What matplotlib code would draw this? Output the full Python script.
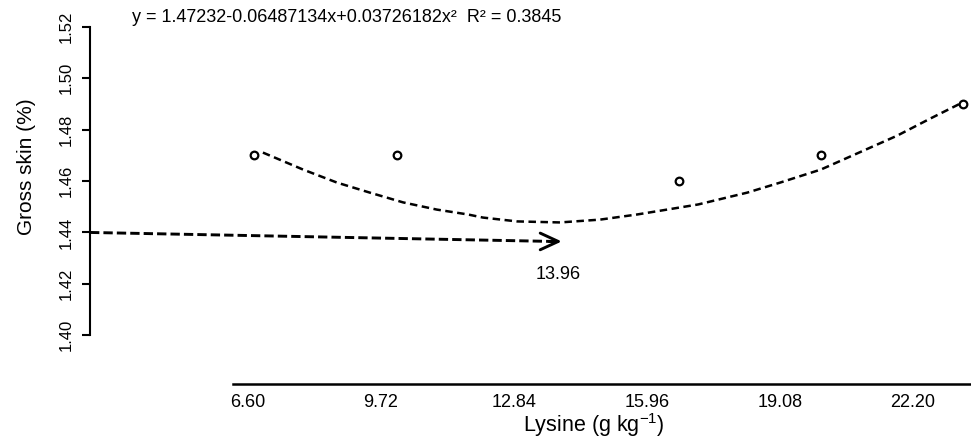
import matplotlib
matplotlib.use("Agg")
import matplotlib.pyplot as plt

plt.rcParams['font.family'] = ['Liberation Sans', 'DejaVu Sans']
plt.rcParams['mathtext.fontset'] = 'custom'
plt.rcParams['mathtext.rm'] = 'Liberation Sans'
plt.rcParams['mathtext.it'] = 'Liberation Sans'

# observed means
lys_obs = [6.74, 10.10, 16.71, 20.04, 23.37]
skin_obs = [1.47, 1.47, 1.46, 1.47, 1.49]

# fitted curve
lys_fit = [6.95, 7.89, 8.69, 9.46, 10.24, 11.03, 11.76, 12.11, 12.91, 13.92,
           14.86, 15.73, 16.43, 17.16, 17.51, 18.31, 19.08, 20.04, 21.03,
           21.83, 22.60, 23.30]
skin_fit = [1.4711, 1.4645, 1.4594, 1.4555, 1.4517, 1.4489, 1.4470, 1.4458,
            1.4443, 1.4439, 1.4450, 1.4470, 1.4489, 1.4509, 1.4523, 1.4555,
            1.4594, 1.4645, 1.4718, 1.4777, 1.4843, 1.4901]

xticks = [6.60, 9.72, 12.84, 15.96, 19.08, 22.20]
xtick_labels = ['6.60', '9.72', '12.84', '15.96', '19.08', '22.20']
yticks = [1.40, 1.42, 1.44, 1.46, 1.48, 1.50, 1.52]

opt_x = 13.96
opt_y = 1.44

fig = plt.figure(figsize=(9.71, 4.46), dpi=100)
ax = fig.add_axes([90/971, 62/446, 881/971, 384/446])
ax.set_xlim(2.894, 23.56)
ax.set_ylim(1.381, 1.5305)

# curve + points
ax.plot(lys_fit, skin_fit, color='black', lw=1.8, ls=(0, (3.0, 1.8)))
ax.plot(lys_obs, skin_obs, 'o', mfc='white', mec='black', ms=5.5, mew=1.6,
        zorder=3)

# arrow to the optimum
ax.plot([2.894, opt_x - 0.2], [opt_y, opt_y - 0.0035], color='black', lw=2.1,
        ls=(0, (3.2, 1.4)))
ax.annotate('', xy=(opt_x, opt_y - 0.0035), xytext=(opt_x - 0.3, opt_y - 0.0035),
            arrowprops=dict(arrowstyle='->,head_length=0.65,head_width=0.3',
                            lw=2.1, color='black', mutation_scale=20,
                            shrinkA=0, shrinkB=0))
ax.text(13.87, 1.4237, '13.96', ha='center', va='center', fontsize=13)

# axes in R style
for s in ['top', 'right']:
    ax.spines[s].set_visible(False)
ax.spines['left'].set_bounds(1.40, 1.52)
ax.spines['left'].set_linewidth(1.5)
ax.spines['bottom'].set_bounds(6.25, 23.56)
ax.spines['bottom'].set_linewidth(1.8)

ax.set_xticks(xticks)
ax.set_xticklabels(xtick_labels)
ax.tick_params(axis='x', length=0, pad=7, labelsize=13)
ax.set_yticks(yticks)
ax.set_yticklabels(['%.2f' % v for v in yticks])
ax.tick_params(axis='y', length=6, width=1.5, pad=6, labelsize=12,
               labelrotation=90)
for lab in ax.get_yticklabels():
    lab.set_va('center')

fig.text(132/971, 1 - 18/446,
         'y = 1.47232-0.06487134x+0.03726182x\u00b2  R\u00b2 = 0.3845',
         ha='left', va='center', fontsize=13)
fig.text(26/971, 1 - 167/446, 'Gross skin (%)', rotation=90,
         ha='center', va='center', fontsize=15)
fig.text(594/971, 1 - 425/446, 'Lysine (g kg$^{-1}$)',
         ha='center', va='center', fontsize=15.5)

fig.savefig('out.png', dpi=100)
